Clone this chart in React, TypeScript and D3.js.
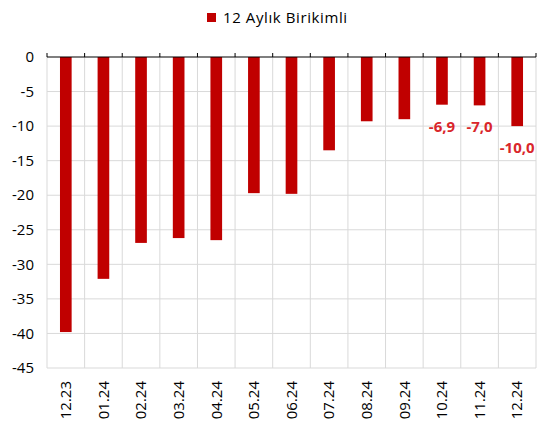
import React, { useEffect, useRef } from 'react';
import * as d3 from 'd3';

const categories = ['12.23', '01.24', '02.24', '03.24', '04.24', '05.24', '06.24', '07.24', '08.24', '09.24', '10.24', '11.24', '12.24'];
const values = [-39.8, -32.1, -26.9, -26.2, -26.5, -19.7, -19.8, -13.5, -9.3, -9.0, -6.9, -7.0, -10.0];
const labelled = ['10.24', '11.24', '12.24'];
const yTicks = [0, -5, -10, -15, -20, -25, -30, -35, -40, -45];
const seriesName = '12 Aylık Birikimli';

const App = () => {
  const ref = useRef<SVGSVGElement>(null);

  useEffect(() => {
    const svg = d3.select(ref.current);
    svg.selectAll('*').remove();

    const width = 547;
    const height = 423;
    const margin = { top: 57, right: 11, bottom: 55, left: 47 };
    const font = 'Open Sans, sans-serif';

    const x = d3.scaleBand()
      .domain(categories)
      .range([margin.left, width - margin.right])
      .paddingInner(0.69)
      .paddingOuter(0.345);

    const grid = d3.scaleBand()
      .domain(categories)
      .range([margin.left, width - margin.right]);

    const y = d3.scaleLinear()
      .domain([-45, 0])
      .range([height - margin.bottom, margin.top]);

    // Horizontal gridlines
    svg.append('g').selectAll('line')
      .data(yTicks.filter(t => t !== 0)).enter()
      .append('line')
      .attr('x1', margin.left)
      .attr('x2', width - margin.right)
      .attr('y1', d => y(d))
      .attr('y2', d => y(d))
      .attr('stroke', '#d9d9d9');

    // Vertical gridlines at category boundaries
    const bounds = categories.map(c => grid(c) as number).concat([width - margin.right]);
    svg.append('g').selectAll('line')
      .data(bounds).enter()
      .append('line')
      .attr('x1', d => d)
      .attr('x2', d => d)
      .attr('y1', margin.top)
      .attr('y2', height - margin.bottom)
      .attr('stroke', '#d9d9d9');

    // Bars
    svg.append('g').selectAll('rect')
      .data(values).enter()
      .append('rect')
      .attr('x', (d, i) => x(categories[i]) as number)
      .attr('y', y(0))
      .attr('width', x.bandwidth())
      .attr('height', d => y(d) - y(0))
      .attr('fill', '#c00000');

    // Zero axis with ticks
    svg.append('line')
      .attr('x1', margin.left)
      .attr('x2', width - margin.right)
      .attr('y1', y(0))
      .attr('y2', y(0))
      .attr('stroke', '#000')
      .attr('stroke-width', 1.2);
    svg.append('g').selectAll('line')
      .data(bounds).enter()
      .append('line')
      .attr('x1', d => d)
      .attr('x2', d => d)
      .attr('y1', y(0) - 4)
      .attr('y2', y(0))
      .attr('stroke', '#000');

    // Y labels
    svg.append('g').selectAll('text')
      .data(yTicks).enter()
      .append('text')
      .attr('x', margin.left - 13)
      .attr('y', d => y(d))
      .attr('dy', '0.35em')
      .attr('text-anchor', 'end')
      .attr('font-family', font)
      .attr('font-size', 15)
      .attr('fill', '#000')
      .text(d => d);

    // X labels (rotated)
    svg.append('g').selectAll('text')
      .data(categories).enter()
      .append('text')
      .attr('transform', d => `translate(${(x(d) as number) + x.bandwidth() / 2}, ${height - margin.bottom + 13}) rotate(-90)`)
      .attr('dy', '0.35em')
      .attr('text-anchor', 'end')
      .attr('font-family', font)
      .attr('font-size', 15)
      .attr('fill', '#000')
      .text(d => d);

    // Value labels
    svg.append('g').selectAll('text')
      .data(categories.map((c, i) => ({ c, v: values[i] })).filter(d => labelled.includes(d.c))).enter()
      .append('text')
      .attr('x', d => (x(d.c) as number) + x.bandwidth() / 2)
      .attr('y', d => y(d.v) + 27)
      .attr('text-anchor', 'middle')
      .attr('font-family', font)
      .attr('font-size', 15)
      .attr('font-weight', 700)
      .attr('fill', '#d9262b')
      .text(d => d3.format('.1f')(d.v).replace('.', ',').replace('−', '-'));

    // Legend
    const legend = svg.append('g');
    legend.append('rect')
      .attr('x', 207)
      .attr('y', 13)
      .attr('width', 9)
      .attr('height', 9)
      .attr('fill', '#c00000');
    legend.append('text')
      .attr('x', 223)
      .attr('y', 17.5)
      .attr('dy', '0.35em')
      .attr('font-family', font)
      .attr('font-size', 15)
      .attr('letter-spacing', 0.6)
      .attr('fill', '#000')
      .text(seriesName);
  }, []);

  return (
    <svg ref={ref} width={547} height={423} style={{ position: 'absolute', left: 0, top: 0, background: '#fff' }}></svg>
  );
};

export default App;
